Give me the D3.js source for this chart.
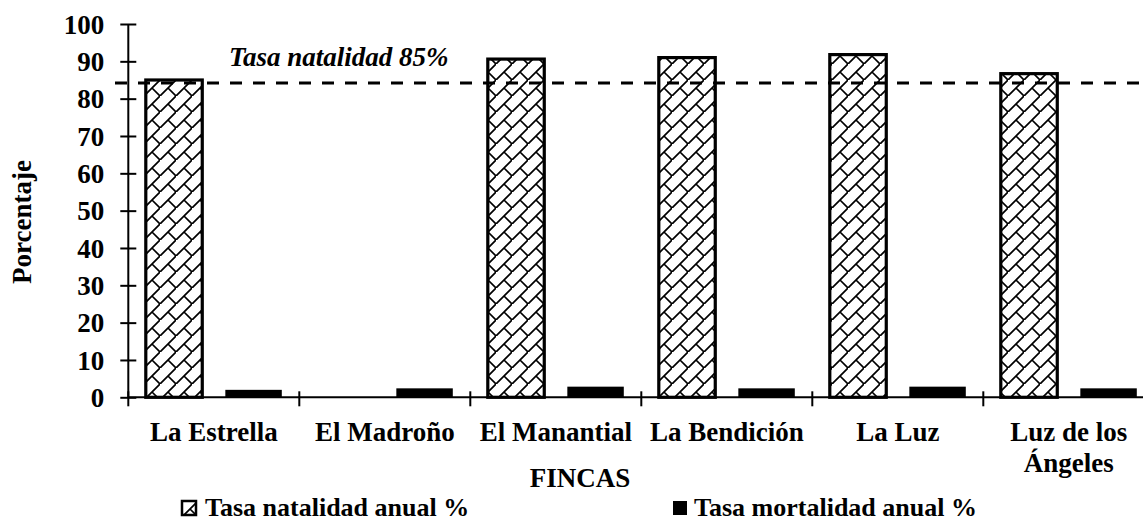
<!DOCTYPE html>
<html>
<head>
<meta charset="utf-8">
<script src="https://d3js.org/d3.v7.min.js"></script>
<style>
body { margin: 0; background: #fff; }
text { font-family: "Liberation Serif", "Times New Roman", serif; font-weight: bold; fill: #000; }
</style>
</head>
<body>
<div id="bar_chart"></div>
<script>
//data
var fincas = ["La Estrella", "El Madroño", "El Manantial", "La Bendición", "La Luz", "Luz de los Ángeles"];
var natalidad = [85.0, 0, 90.6, 91.0, 91.8, 86.7];
var mortalidad = [2.0, 2.4, 2.85, 2.4, 2.85, 2.4];
var series = ["Tasa natalidad anual %", "Tasa mortalidad anual %"];
var yTicks = [0, 10, 20, 30, 40, 50, 60, 70, 80, 90, 100];
var metaValor = 84.2;
var metaTexto = "Tasa natalidad 85%";

var W = 1143, H = 523;
var fontSize = 27;

var svg = d3.select("#bar_chart")
.append("svg")
.attr("width", W)
.attr("height", H);

//pattern for the natalidad bars (diagonal brick)
var defs = svg.append("defs");
var pat = defs.append("pattern")
.attr("id", "brick")
.attr("patternUnits", "userSpaceOnUse")
.attr("width", 16)
.attr("height", 16);
pat.append("rect").attr("width", 16).attr("height", 16).attr("fill", "#fff");
pat.append("path")
.attr("d", "M-2,18 L18,-2 M8,8 L17,17 M-1,-1 L0,0")
.attr("stroke", "#000")
.attr("stroke-width", 1.7)
.attr("fill", "none");

//scales
var x0 = d3.scaleBand().domain(fincas).range([128.3, 1154.3]).paddingInner(0).paddingOuter(0);
var x1 = d3.scaleBand().domain(series).range([0, x0.bandwidth()]).paddingInner(0.29).paddingOuter(0.22);
var y = d3.scaleLinear().domain([0, 100]).range([397.3, 24]);

//y axis
var yAxis = svg.append("g")
.attr("transform", "translate(128.3,0)")
.call(d3.axisLeft(y).tickValues(yTicks).tickSize(8).tickPadding(16));
yAxis.select(".domain").attr("stroke", "#000").attr("stroke-width", 2).attr("d", "M0," + y(100) + "V" + y(0));
yAxis.selectAll(".tick line").attr("x1", 8).attr("x2", -8).attr("stroke", "#000").attr("stroke-width", 2);
yAxis.selectAll(".tick text")
.style("font-family", "Liberation Serif")
.style("font-weight", "bold")
.style("font-size", fontSize + "px")
.attr("dy", "0.34em");

//x axis line and ticks between categories
svg.append("line")
.attr("x1", 128.3).attr("x2", W)
.attr("y1", y(0)).attr("y2", y(0))
.attr("stroke", "#000").attr("stroke-width", 2);
var sep = fincas.map(function(d) { return x0(d); });
sep.push(x0(fincas[fincas.length - 1]) + x0.bandwidth());
svg.selectAll(".sep")
.data(sep)
.enter().append("line")
.attr("x1", function(d) { return d; })
.attr("x2", function(d) { return d; })
.attr("y1", y(0) - 6)
.attr("y2", y(0) + 9)
.attr("stroke", "#000").attr("stroke-width", 2);

//bars natalidad (El Madroño has no value)
svg.selectAll(".nat")
.data(natalidad)
.enter().append("rect")
.filter(function(d) { return d > 0; })
.attr("x", function(d) { return x0(fincas[natalidad.indexOf(d)]) + x1(series[0]); })
.attr("y", function(d) { return y(d); })
.attr("width", x1.bandwidth())
.attr("height", function(d) { return y(0) - y(d); })
.attr("fill", "url(#brick)")
.attr("stroke", "#000")
.attr("stroke-width", 3.2);

//bars mortalidad
svg.selectAll(".mort")
.data(mortalidad)
.enter().append("rect")
.attr("x", function(d, i) { return x0(fincas[i]) + x1(series[1]); })
.attr("y", function(d) { return y(d); })
.attr("width", x1.bandwidth())
.attr("height", function(d) { return y(0) - y(d); })
.attr("fill", "#000");

//dashed reference line
svg.append("line")
.attr("x1", 115).attr("x2", W)
.attr("y1", y(metaValor)).attr("y2", y(metaValor))
.attr("stroke", "#000")
.attr("stroke-width", 3)
.attr("stroke-dasharray", "12,11");

svg.append("text")
.attr("x", 229).attr("y", 66)
.style("font-size", fontSize + "px")
.style("font-style", "italic")
.text(metaTexto);

//category labels
svg.selectAll(".cat")
.data(fincas)
.enter().append("text")
.attr("text-anchor", "middle")
.attr("x", function(d) { return x0(d) + x0.bandwidth() / 2; })
.attr("y", 441)
.style("font-size", fontSize + "px")
.each(function(d) {
  var parts = d === "Luz de los Ángeles" ? ["Luz de los", "Ángeles"] : [d];
  var t = d3.select(this);
  parts.forEach(function(p, k) {
    t.append("tspan")
    .attr("x", x0(d) + x0.bandwidth() / 2)
    .attr("dy", k === 0 ? 0 : 31)
    .text(p);
  });
});

//axis titles
svg.append("text")
.attr("text-anchor", "middle")
.attr("x", 580).attr("y", 487)
.style("font-size", fontSize + "px")
.text("FINCAS");

svg.append("text")
.attr("text-anchor", "middle")
.attr("transform", "translate(31,222) rotate(-90)")
.style("font-size", fontSize + "px")
.text("Porcentaje");

//legend
var legX = [182, 673];
var leg = svg.selectAll(".leg")
.data(series)
.enter().append("g")
.attr("transform", function(d, i) { return "translate(" + legX[i] + ",501)"; });
leg.append("rect")
.attr("width", 14).attr("height", 14)
.attr("fill", function(d, i) { return i === 0 ? "url(#brick)" : "#000"; })
.attr("stroke", "#000")
.attr("stroke-width", function(d, i) { return i === 0 ? 2.5 : 0; });
leg.append("text")
.attr("x", function(d, i) { return i === 0 ? 23 : 21; })
.attr("y", 15)
.style("font-size", "26px")
.text(function(d) { return d; });
</script>
</body>
</html>
